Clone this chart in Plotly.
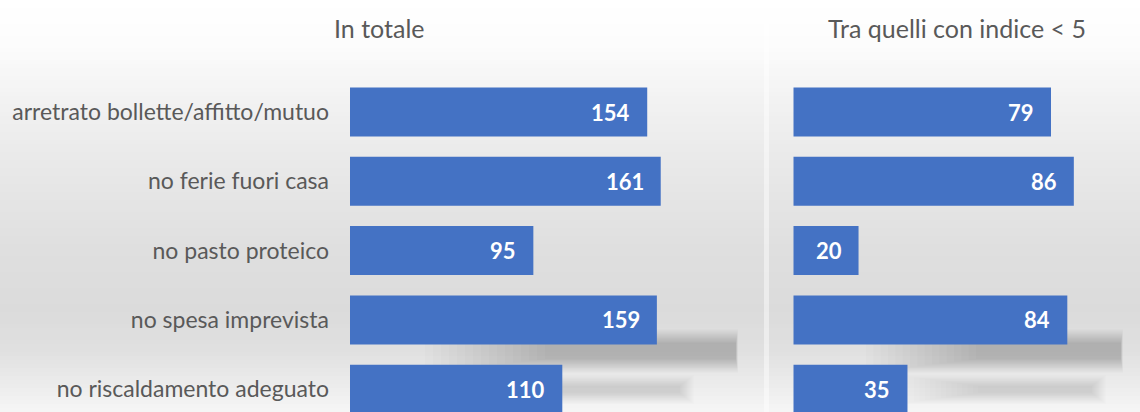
import plotly.graph_objects as go

# --- data ---
categories = [
    "arretrato bollette/affitto/mutuo",
    "no ferie fuori casa",
    "no pasto proteico",
    "no spesa imprevista",
    "no riscaldamento adeguato",
]
totale = [154, 161, 95, 159, 110]
indice_sotto_5 = [79, 86, 20, 84, 35]
panel_titles = ["In totale", "Tra quelli con indice < 5"]

W, H = 1140, 412
BAR = "#4472C4"
TEXT = "#595959"
FONT = "Lato"


def px(x):
    return x / W


def py(y):
    return 1 - y / H


fig = go.Figure()

fig.add_trace(go.Bar(
    y=categories, x=totale, orientation="h", marker=dict(color=BAR, line=dict(width=0)),
    xaxis="x", yaxis="y", hoverinfo="skip", showlegend=False,
))
fig.add_trace(go.Bar(
    y=categories, x=indice_sotto_5, orientation="h", marker=dict(color=BAR, line=dict(width=0)),
    xaxis="x2", yaxis="y2", hoverinfo="skip", showlegend=False,
))

shapes = []

# soft vertical background gradient
stops = [(0, 255), (45, 252), (100, 242), (170, 232), (250, 223), (310, 219),
         (350, 224), (385, 236), (412, 246)]


def level_at(y):
    for (y0, c0), (y1, c1) in zip(stops[:-1], stops[1:]):
        if y0 <= y <= y1:
            t = (y - y0) / (y1 - y0)
            return c0 + (c1 - c0) * t
    return stops[-1][1]


step = 4
for y in range(0, H, step):
    g = int(round(level_at(y + step / 2)))
    shapes.append(dict(type="rect", xref="paper", yref="paper", layer="below",
                       x0=0, x1=1, y0=py(y + step + 0.5), y1=py(y),
                       fillcolor=f"rgb({g},{g},{g})", line=dict(width=0)))

# faint light divider between the two panels
shapes.append(dict(type="rect", xref="paper", yref="paper", layer="below",
                   x0=px(764), x1=px(769), y0=0, y1=1,
                   fillcolor="rgba(255,255,255,0.45)", line=dict(width=0)))


def soft_shadow(x0, x1, y0, y1, fade_left, fade_right, fade_v, alpha, n=16):
    for i in range(n):
        t = i / (n - 1)
        shapes.append(dict(
            type="rect", xref="paper", yref="paper", layer="below",
            x0=px(x0 + fade_left * t), x1=px(x1 - fade_right * t),
            y0=py(y1 - fade_v * t), y1=py(y0 + fade_v * t),
            fillcolor=f"rgba(0,0,0,{alpha / n:.4f})", line=dict(width=0)))


soft_shadow(425, 738, 329, 373, 120, 2, 14, 0.17)
soft_shadow(465, 694, 375, 404, 90, 14, 11, 0.13)
soft_shadow(866, 1123, 329, 373, 110, 2, 14, 0.17)
soft_shadow(898, 1106, 375, 404, 80, 14, 11, 0.13)

# value labels inside the bar ends
annotations = []
for axis, vals in (("", totale), ("2", indice_sotto_5)):
    for cat, v in zip(categories, vals):
        annotations.append(dict(
            x=v, y=cat, xref="x" + axis, yref="y" + axis,
            text=str(v), showarrow=False, xanchor="right", yanchor="middle",
            xshift=-15, font=dict(family=FONT, size=22, color="white", weight=700)))

# panel titles
for title, cx in zip(panel_titles, (379.5, 957)):
    annotations.append(dict(
        x=px(cx), y=py(28), xref="paper", yref="paper", text=title,
        showarrow=False, xanchor="center", yanchor="middle",
        font=dict(family=FONT, size=25, color=TEXT)))

# axis geometry
left_x0, left_x1 = 350, 740
right_x0, right_x1 = 793.3, 1130
left_scale, right_scale = 1.93, 3.262
pitch, first_center = 69.3, 112
y_top = -first_center / pitch
y_bottom = (H - first_center) / pitch

fig.update_layout(
    width=W, height=H,
    margin=dict(l=0, r=0, t=0, b=0),
    paper_bgcolor="white", plot_bgcolor="rgba(0,0,0,0)",
    bargap=0.293,
    shapes=shapes, annotations=annotations,
    xaxis=dict(domain=[px(left_x0), px(left_x1)],
               range=[0, (left_x1 - left_x0) / left_scale],
               visible=False, fixedrange=True),
    xaxis2=dict(domain=[px(right_x0), px(right_x1)],
                range=[0, (right_x1 - right_x0) / right_scale],
                visible=False, fixedrange=True),
    yaxis=dict(domain=[0, 1], anchor="x", type="category",
               categoryorder="array", categoryarray=categories,
               range=[y_bottom, y_top], showgrid=False, zeroline=False,
               showline=False, ticks="", ticklabelstandoff=20,
               tickfont=dict(family=FONT, size=23, color=TEXT), fixedrange=True),
    yaxis2=dict(domain=[0, 1], anchor="x2", type="category",
                categoryorder="array", categoryarray=categories,
                range=[y_bottom, y_top], showgrid=False, zeroline=False,
                showline=False, ticks="", showticklabels=False, fixedrange=True),
)

fig.write_html("out.html")
